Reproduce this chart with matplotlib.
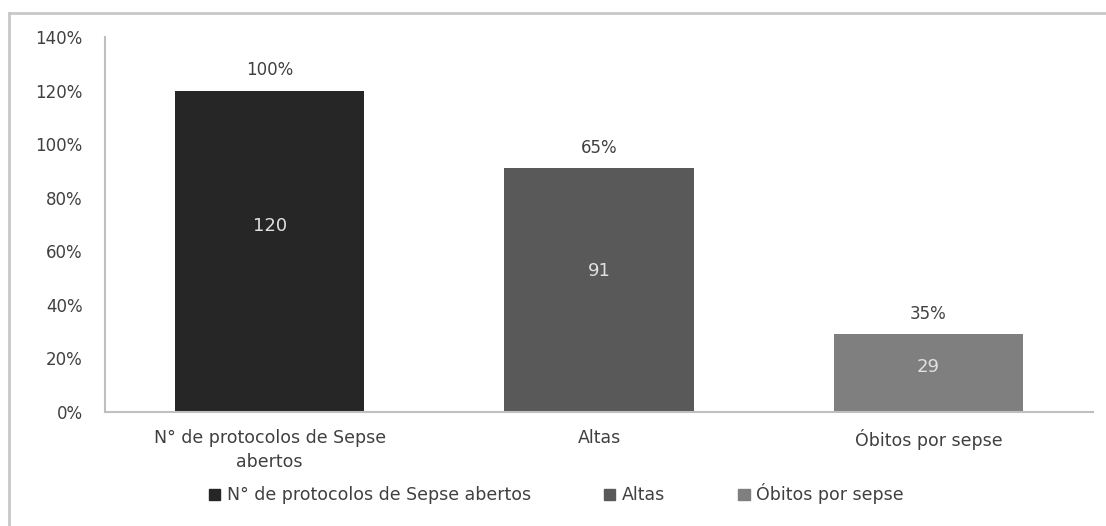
import matplotlib.pyplot as plt
import matplotlib.patches as mpatches
from matplotlib.ticker import FuncFormatter

categorias = ['N° de protocolos de Sepse\nabertos', 'Altas', 'Óbitos por sepse']
nomes = ['N° de protocolos de Sepse abertos', 'Altas', 'Óbitos por sepse']
valores = [120, 91, 29]
percentuais = ['100%', '65%', '35%']
cores = ['#262626', '#595959', '#7f7f7f']
yticks = [0, 20, 40, 60, 80, 100, 120, 140]

plt.rcParams['font.family'] = 'sans-serif'
plt.rcParams['font.sans-serif'] = ['DejaVu Sans']

fig = plt.figure(figsize=(11.06, 5.26), dpi=100)
ax = fig.add_axes([105/1106, 1-412/526, (1093-105)/1106, (412-37)/526])

x = range(len(valores))
bars = ax.bar(x, valores, width=0.575, color=cores, label=nomes)

for i, b in enumerate(bars):
    h = b.get_height()
    ax.annotate(percentuais[i], (b.get_x() + b.get_width()/2, h), xytext=(0, 8),
                textcoords='offset points', ha='center', va='bottom',
                fontsize=12, color='#404040')
    ax.text(b.get_x() + b.get_width()/2, h*0.58, str(valores[i]), ha='center',
            va='center', fontsize=13, color='#e0e0e0')

ax.set_xlim(-0.5, 2.5)
ax.set_ylim(0, 140)
ax.set_yticks(yticks)
ax.yaxis.set_major_formatter(FuncFormatter(lambda v, p: f'{int(v)}%'))
ax.set_xticks(list(x))
ax.set_xticklabels(categorias, fontsize=12.5, color='#404040', linespacing=1.45)
ax.tick_params(axis='y', length=0, pad=16, labelsize=12, labelcolor='#404040')
ax.tick_params(axis='x', length=0, pad=12)
for s in ['top', 'right']:
    ax.spines[s].set_visible(False)
ax.spines['left'].set_color('#bfbfbf')
ax.spines['bottom'].set_color('#bfbfbf')
ax.spines['left'].set_linewidth(1.5)
ax.spines['bottom'].set_linewidth(1.5)

# moldura externa
fig.add_artist(plt.Line2D([9/1106, 9/1106], [0, 1-13/526], color='#c8c8c8', lw=2))
fig.add_artist(plt.Line2D([9/1106, 1], [1-13/526, 1-13/526], color='#c8c8c8', lw=2))

handles = [mpatches.Patch(color=c) for c in cores]
fig.legend(handles, nomes, loc='center', bbox_to_anchor=(0.503, 1-494/526), ncol=3,
           frameon=False, fontsize=12.5, handlelength=0.65, handleheight=0.65,
           handletextpad=0.4, columnspacing=4.2, labelcolor='#404040')

fig.savefig('out.png', dpi=100)
